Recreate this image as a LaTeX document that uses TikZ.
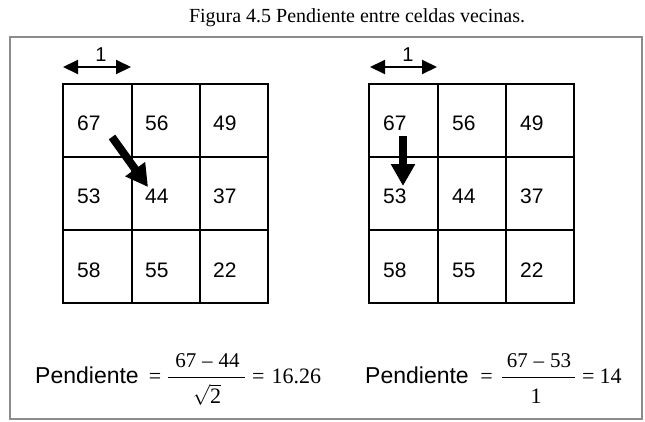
\documentclass[tikz,border=0pt]{standalone}
\usepackage{fontspec}
\setmainfont{Liberation Serif}
\newfontfamily\arialf{Liberation Sans}
\usetikzlibrary{arrows.meta}
\definecolor{framegray}{RGB}{140,140,140}
\begin{document}
\begin{tikzpicture}[x=1pt,y=-1pt,
  framebox/.style={draw=framegray, line width=1.6pt},
  gridline/.style={line width=1.8pt, line cap=rect},
  cellnum/.style={anchor=base west, inner sep=0pt, font=\arialf\fontsize{21}{21}\selectfont},
  unitlbl/.style={anchor=base, inner sep=0pt, font=\arialf\fontsize{20}{20}\selectfont},
  unitarrow/.style={line width=2pt, {Triangle[length=15pt,width=14pt]}-{Triangle[length=15pt,width=14pt]}},
  bigarrow/.style={line width=8pt, -{Triangle[length=22pt,width=23pt]}},
  caption/.style={anchor=base, inner sep=0pt, font=\fontsize{20}{20}\selectfont},
  formlbl/.style={anchor=base west, inner sep=0pt, font=\arialf\fontsize{23}{23}\selectfont},
  eqsign/.style={anchor=base, inner sep=0pt, font=\fontsize{22}{22}\selectfont},
  fracpart/.style={anchor=base, inner sep=0pt, font=\fontsize{21}{21}\selectfont},
  result/.style={anchor=base west, inner sep=0pt, font=\fontsize{22}{22}\selectfont},
  fracbar/.style={line width=1pt}
]
\useasboundingbox (0,0) rectangle (645,421);

% caption and frame
\node[caption] (cap) at (357,22) {Figura 4.5 Pendiente entre celdas vecinas.};
\draw[framebox] (10,37) rectangle (642,419);

% left grid
\draw[gridline] (63,84) rectangle (268,303);
\draw[gridline] (132,84) -- (132,303) (200,84) -- (200,303);
\draw[gridline] (63,157) -- (268,157) (63,230) -- (268,230);
\node[cellnum] (L11) at (77,130) {67};
\node[cellnum] (L12) at (145,130) {56};
\node[cellnum] (L13) at (213,130) {49};
\node[cellnum] (L21) at (77,203) {53};
\node[cellnum] (L22) at (145,203) {44};
\node[cellnum] (L23) at (213,203) {37};
\node[cellnum] (L31) at (77,277) {58};
\node[cellnum] (L32) at (145,277) {55};
\node[cellnum] (L33) at (213,277) {22};

% right grid
\draw[gridline] (369,84) rectangle (574,303);
\draw[gridline] (438,84) -- (438,303) (506,84) -- (506,303);
\draw[gridline] (369,157) -- (574,157) (369,230) -- (574,230);
\node[cellnum] (R11) at (383,130) {67};
\node[cellnum] (R12) at (452,130) {56};
\node[cellnum] (R13) at (520,130) {49};
\node[cellnum] (R21) at (383,203) {53};
\node[cellnum] (R22) at (452,203) {44};
\node[cellnum] (R23) at (520,203) {37};
\node[cellnum] (R31) at (383,277) {58};
\node[cellnum] (R32) at (452,277) {55};
\node[cellnum] (R33) at (520,277) {22};

% unit arrows
\coordinate (ual) at (63,67);
\coordinate (uar) at (131,67);
\draw[unitarrow] (ual) -- (uar);
\node[unitlbl] (u1) at (101,61) {1};
\coordinate (ubl) at (370,67);
\coordinate (ubr) at (437,67);
\draw[unitarrow] (ubl) -- (ubr);
\node[unitlbl] (u2) at (408,61) {1};

% flow arrows
\coordinate (fa1) at (112,137);
\coordinate (fa2) at (148,187);
\draw[bigarrow] (fa1) -- (fa2);
\coordinate (fb1) at (403,136);
\coordinate (fb2) at (403,186);
\draw[bigarrow] (fb1) -- (fb2);

% formula left
\node[formlbl] (p1) at (35,383) {Pendiente};
\node[eqsign] (e1) at (155,383) {=};
\coordinate (b1l) at (168,377);
\coordinate (b1r) at (245,377);
\draw[fracbar] (b1l) -- (b1r);
\node[fracpart] (n1) at (207.5,367) {67\kern6pt–\kern6pt44};
\node[fracpart,font=\fontsize{22}{22}\selectfont] (d1) at (207,403) {$\sqrt{\hbox{2}}$};
\node[result] (r1) at (252,383) {=\kern7pt16.26};

% formula right
\node[formlbl] (p2) at (365,383) {Pendiente};
\node[eqsign] (e2) at (486.5,383) {=};
\coordinate (b2l) at (502,377);
\coordinate (b2r) at (575,377);
\draw[fracbar] (b2l) -- (b2r);
\node[fracpart] (n2) at (539,367) {67\kern6pt–\kern6pt53};
\node[fracpart,font=\fontsize{22}{22}\selectfont] (d2) at (536,403) {1};
\node[result] (r2) at (582,383) {=\kern5pt14};
\end{tikzpicture}
\end{document}
